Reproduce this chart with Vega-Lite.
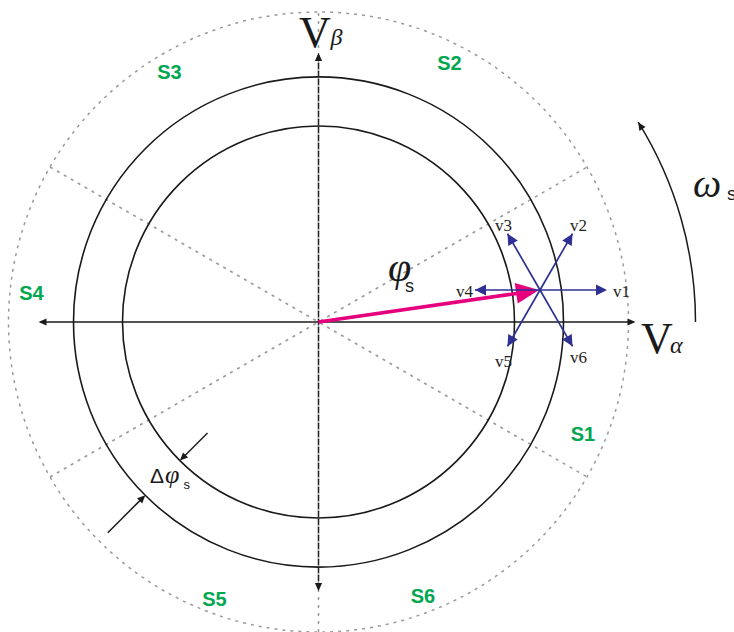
{
  "$schema": "https://vega.github.io/schema/vega-lite/v6.json",
  "width": 734,
  "height": 632,
  "autosize": {"type": "none"},
  "padding": 0,
  "background": "white",
  "config": {"view": {"stroke": null}},
  "datasets": {
    "dotCircle": [{"x": 0, "y": 0, "r": 310}],
    "solidCircles": [{"x": 0, "y": 0, "r": 245}, {"x": 0, "y": 0, "r": 196}],
    "omegaArc": [{"x": 0, "y": 0, "r": 377}],
    "grayLines": [
      {"x": -268.5, "y": -155, "x2": 268.5, "y2": 155},
      {"x": -268.5, "y": 155, "x2": 268.5, "y2": -155},
      {"x": 0, "y": -310, "x2": 0, "y2": 310}
    ],
    "blackLines": [
      {"x": -278, "y": 0, "x2": 315, "y2": 0},
      {"x": -111, "y": -111, "x2": -137, "y2": -137},
      {"x": -210.7, "y": -210.7, "x2": -174.6, "y2": -174.6}
    ],
    "dashedAxis": [{"x": 0, "y": -267, "x2": 0, "y2": 267}],
    "fluxVector": [{"x": 0, "y": 0, "x2": 201.7, "y2": 29.1}],
    "voltageVectors": [
      {"x": 221.5, "y": 32, "x2": 286.5, "y2": 32},
      {"x": 221.5, "y": 32, "x2": 254, "y2": 88.3},
      {"x": 221.5, "y": 32, "x2": 189, "y2": 88.3},
      {"x": 221.5, "y": 32, "x2": 156.5, "y2": 32},
      {"x": 221.5, "y": 32, "x2": 189, "y2": -24.3},
      {"x": 221.5, "y": 32, "x2": 254, "y2": -24.3}
    ],
    "axisHeads": [
      {"x": 317, "y": 0, "dir": 0},
      {"x": -280, "y": 0, "dir": 180},
      {"x": 0, "y": 269, "dir": 90},
      {"x": 0, "y": -269, "dir": 270},
      {"x": -138.6, "y": -138.6, "dir": 225},
      {"x": -173.2, "y": -173.2, "dir": 45},
      {"x": 319.7, "y": 199.8, "dir": 122}
    ],
    "blueHeads": [
      {"x": 288.5, "y": 32, "dir": 0},
      {"x": 254, "y": 88.3, "dir": 60},
      {"x": 189, "y": 88.3, "dir": 120},
      {"x": 156.5, "y": 32, "dir": 180},
      {"x": 189, "y": -24.3, "dir": 240},
      {"x": 254, "y": -24.3, "dir": 300}
    ],
    "fluxHead": [{"x": 220.5, "y": 32, "dir": 8.2}],
    "sectors": [
      {"x": 264.5, "y": -119, "t": "S1"},
      {"x": 131, "y": 252, "t": "S2"},
      {"x": -149, "y": 243, "t": "S3"},
      {"x": -287, "y": 22, "t": "S4"},
      {"x": -104, "y": -284, "t": "S5"},
      {"x": 104.5, "y": -281, "t": "S6"}
    ],
    "vLabels": [
      {"x": 294.5, "y": 25, "t": "v1"},
      {"x": 251.5, "y": 91, "t": "v2"},
      {"x": 176.5, "y": 91, "t": "v3"},
      {"x": 137.5, "y": 25, "t": "v4"},
      {"x": 176.5, "y": -45, "t": "v5"},
      {"x": 251.5, "y": -41, "t": "v6"}
    ],
    "bigV": [
      {"x": -3.5, "y": 275, "t": "V"},
      {"x": 338.5, "y": -31, "t": "V"}
    ],
    "axisSubs": [
      {"x": 12, "y": 277, "t": "β"},
      {"x": 351.5, "y": -31, "t": "α"}
    ],
    "omega": [{"x": 374.5, "y": 125, "t": "ω"}],
    "omegaSub": [{"x": 408.5, "y": 122, "t": "s"}],
    "phiMain": [{"x": 69.5, "y": 41, "t": "φ"}],
    "phiSub": [{"x": 86.5, "y": 30, "t": "s"}],
    "delta": [{"x": -168.5, "y": -161, "t": "Δ"}],
    "deltaPhi": [{"x": -153.5, "y": -161, "t": "φ"}],
    "deltaSub": [{"x": -135, "y": -167, "t": "s"}]
  },
  "layer": [
    {
      "data": {"name": "grayLines"},
      "mark": {"type": "rule", "stroke": "#9a9a9a", "strokeWidth": 1.5, "strokeDash": [3, 5]},
      "encoding": {
        "x": {"field": "x", "type": "quantitative", "scale": {"domain": [-318.5, 415.5], "nice": false, "zero": false}, "axis": null},
        "y": {"field": "y", "type": "quantitative", "scale": {"domain": [-310, 322], "nice": false, "zero": false}, "axis": null},
        "x2": {"field": "x2"},
        "y2": {"field": "y2"}
      }
    },
    {
      "data": {"name": "dotCircle"},
      "mark": {"type": "point", "shape": "circle", "filled": false, "opacity": 1, "stroke": "#9a9a9a", "strokeWidth": 1.5, "strokeDash": [3, 5]},
      "encoding": {
        "x": {"field": "x", "type": "quantitative"},
        "y": {"field": "y", "type": "quantitative"},
        "size": {"field": "r", "type": "quantitative", "scale": {"type": "pow", "exponent": 2, "domain": [0, 400], "range": [0, 640000]}, "legend": null}
      }
    },
    {
      "data": {"name": "solidCircles"},
      "mark": {"type": "point", "shape": "circle", "filled": false, "opacity": 1, "stroke": "#1a1a1a", "strokeWidth": 1.6},
      "encoding": {
        "x": {"field": "x", "type": "quantitative"},
        "y": {"field": "y", "type": "quantitative"},
        "size": {"field": "r", "type": "quantitative", "legend": null}
      }
    },
    {
      "data": {"name": "omegaArc"},
      "mark": {"type": "point", "shape": "M1,0A1,1,0,0,0,0.848,-0.53", "filled": false, "opacity": 1, "stroke": "#1a1a1a", "strokeWidth": 1.5},
      "encoding": {
        "x": {"field": "x", "type": "quantitative"},
        "y": {"field": "y", "type": "quantitative"},
        "size": {"field": "r", "type": "quantitative", "legend": null}
      }
    },
    {
      "data": {"name": "blackLines"},
      "mark": {"type": "rule", "stroke": "#1a1a1a", "strokeWidth": 1.5},
      "encoding": {
        "x": {"field": "x", "type": "quantitative"},
        "y": {"field": "y", "type": "quantitative"},
        "x2": {"field": "x2"},
        "y2": {"field": "y2"}
      }
    },
    {
      "data": {"name": "dashedAxis"},
      "mark": {"type": "rule", "stroke": "#222222", "strokeWidth": 1.5, "strokeDash": [6, 2]},
      "encoding": {
        "x": {"field": "x", "type": "quantitative"},
        "y": {"field": "y", "type": "quantitative"},
        "x2": {"field": "x2"},
        "y2": {"field": "y2"}
      }
    },
    {
      "data": {"name": "fluxVector"},
      "mark": {"type": "rule", "stroke": "#e6007e", "strokeWidth": 3.5},
      "encoding": {
        "x": {"field": "x", "type": "quantitative"},
        "y": {"field": "y", "type": "quantitative"},
        "x2": {"field": "x2"},
        "y2": {"field": "y2"}
      }
    },
    {
      "data": {"name": "fluxHead"},
      "mark": {"type": "point", "shape": "M0,0L0.9,2L-0.9,2Z", "filled": true, "opacity": 1, "fill": "#e6007e", "strokeWidth": 0, "size": 529},
      "encoding": {
        "x": {"field": "x", "type": "quantitative"},
        "y": {"field": "y", "type": "quantitative"},
        "angle": {"field": "dir", "type": "quantitative", "scale": {"domain": [0, 360], "range": [90, -270]}}
      }
    },
    {
      "data": {"name": "voltageVectors"},
      "mark": {"type": "rule", "stroke": "#2e3192", "strokeWidth": 1.7},
      "encoding": {
        "x": {"field": "x", "type": "quantitative"},
        "y": {"field": "y", "type": "quantitative"},
        "x2": {"field": "x2"},
        "y2": {"field": "y2"}
      }
    },
    {
      "data": {"name": "blueHeads"},
      "mark": {"type": "point", "shape": "M0,0L1,2L-1,2Z", "filled": true, "opacity": 1, "fill": "#2e3192", "strokeWidth": 0, "size": 121},
      "encoding": {
        "x": {"field": "x", "type": "quantitative"},
        "y": {"field": "y", "type": "quantitative"},
        "angle": {"field": "dir", "type": "quantitative"}
      }
    },
    {
      "data": {"name": "axisHeads"},
      "mark": {"type": "point", "shape": "M0,0L0.9,2L-0.9,2Z", "filled": true, "opacity": 1, "fill": "#1a1a1a", "strokeWidth": 0, "size": 64},
      "encoding": {
        "x": {"field": "x", "type": "quantitative"},
        "y": {"field": "y", "type": "quantitative"},
        "angle": {"field": "dir", "type": "quantitative"}
      }
    },
    {
      "data": {"name": "sectors"},
      "mark": {"type": "text", "font": "Liberation Sans", "fontWeight": "bold", "fontSize": 20, "fill": "#00a650", "align": "center", "baseline": "alphabetic"},
      "encoding": {
        "x": {"field": "x", "type": "quantitative"},
        "y": {"field": "y", "type": "quantitative"},
        "text": {"field": "t"}
      }
    },
    {
      "data": {"name": "vLabels"},
      "mark": {"type": "text", "font": "Liberation Serif", "fontSize": 17, "fill": "#222222", "align": "left", "baseline": "alphabetic"},
      "encoding": {
        "x": {"field": "x", "type": "quantitative"},
        "y": {"field": "y", "type": "quantitative"},
        "text": {"field": "t"}
      }
    },
    {
      "data": {"name": "bigV"},
      "mark": {"type": "text", "font": "Liberation Serif", "fontSize": 44, "fill": "#1a1a1a", "align": "center", "baseline": "alphabetic"},
      "encoding": {
        "x": {"field": "x", "type": "quantitative"},
        "y": {"field": "y", "type": "quantitative"},
        "text": {"field": "t"}
      }
    },
    {
      "data": {"name": "axisSubs"},
      "mark": {"type": "text", "font": "Liberation Serif", "fontStyle": "italic", "fontSize": 24, "fill": "#1a1a1a", "align": "left", "baseline": "alphabetic"},
      "encoding": {
        "x": {"field": "x", "type": "quantitative"},
        "y": {"field": "y", "type": "quantitative"},
        "text": {"field": "t"}
      }
    },
    {
      "data": {"name": "omega"},
      "mark": {"type": "text", "font": "Liberation Serif", "fontStyle": "italic", "fontSize": 40, "fill": "#1a1a1a", "align": "left", "baseline": "alphabetic"},
      "encoding": {
        "x": {"field": "x", "type": "quantitative"},
        "y": {"field": "y", "type": "quantitative"},
        "text": {"field": "t"}
      }
    },
    {
      "data": {"name": "omegaSub"},
      "mark": {"type": "text", "font": "Liberation Sans", "fontSize": 19, "fill": "#1a1a1a", "align": "left", "baseline": "alphabetic"},
      "encoding": {
        "x": {"field": "x", "type": "quantitative"},
        "y": {"field": "y", "type": "quantitative"},
        "text": {"field": "t"}
      }
    },
    {
      "data": {"name": "phiMain"},
      "mark": {"type": "text", "font": "Liberation Serif", "fontStyle": "italic", "fontSize": 42, "fill": "#1a1a1a", "align": "left", "baseline": "alphabetic"},
      "encoding": {
        "x": {"field": "x", "type": "quantitative"},
        "y": {"field": "y", "type": "quantitative"},
        "text": {"field": "t"}
      }
    },
    {
      "data": {"name": "phiSub"},
      "mark": {"type": "text", "font": "Liberation Sans", "fontSize": 18, "fill": "#1a1a1a", "align": "left", "baseline": "alphabetic"},
      "encoding": {
        "x": {"field": "x", "type": "quantitative"},
        "y": {"field": "y", "type": "quantitative"},
        "text": {"field": "t"}
      }
    },
    {
      "data": {"name": "delta"},
      "mark": {"type": "text", "font": "Liberation Sans", "fontSize": 21, "fill": "#1a1a1a", "align": "left", "baseline": "alphabetic"},
      "encoding": {
        "x": {"field": "x", "type": "quantitative"},
        "y": {"field": "y", "type": "quantitative"},
        "text": {"field": "t"}
      }
    },
    {
      "data": {"name": "deltaPhi"},
      "mark": {"type": "text", "font": "Liberation Serif", "fontStyle": "italic", "fontSize": 26, "fill": "#1a1a1a", "align": "left", "baseline": "alphabetic"},
      "encoding": {
        "x": {"field": "x", "type": "quantitative"},
        "y": {"field": "y", "type": "quantitative"},
        "text": {"field": "t"}
      }
    },
    {
      "data": {"name": "deltaSub"},
      "mark": {"type": "text", "font": "Liberation Sans", "fontSize": 13, "fill": "#1a1a1a", "align": "left", "baseline": "alphabetic"},
      "encoding": {
        "x": {"field": "x", "type": "quantitative"},
        "y": {"field": "y", "type": "quantitative"},
        "text": {"field": "t"}
      }
    }
  ]
}
